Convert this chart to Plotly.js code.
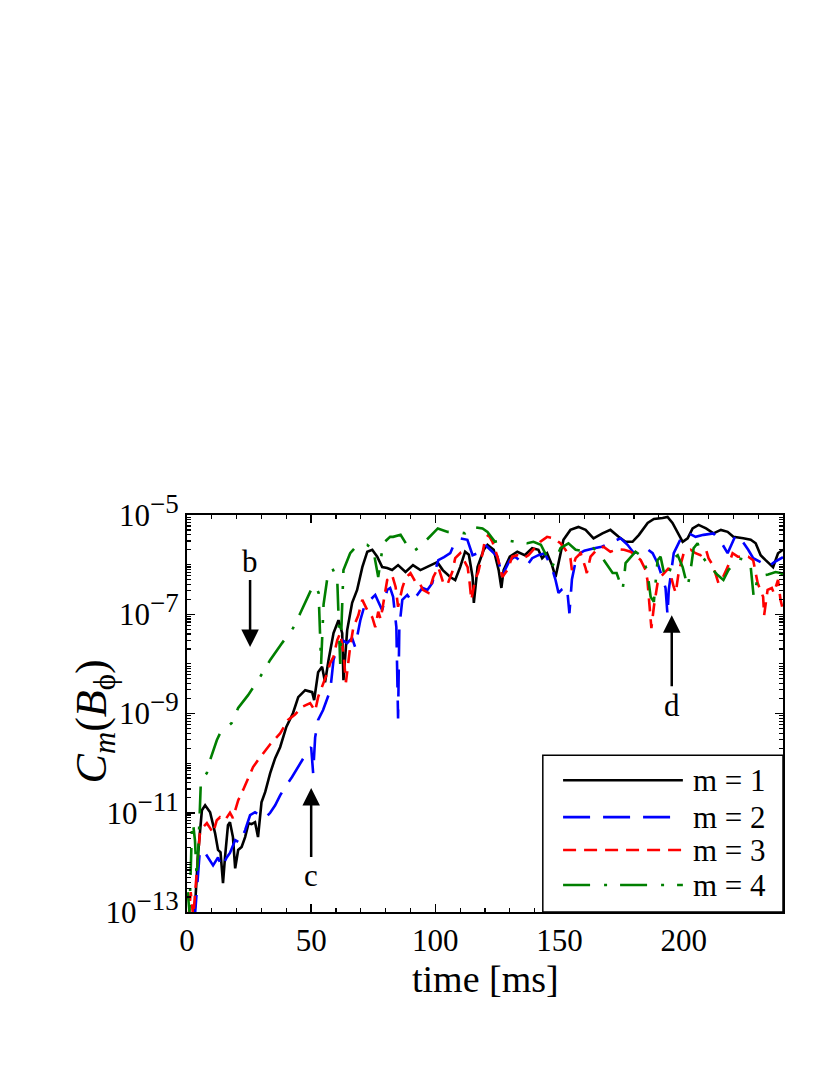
<!DOCTYPE html>
<html>
<head>
<meta charset="utf-8">
<script src="https://cdn.plot.ly/plotly-3.0.1.min.js"></script>
<style>
  body { margin: 0; background: #fff; }
  #chart { width: 830px; height: 1075px; }
</style>
</head>
<body>
<div id="chart"></div>
<script>
/*
Data: time in ms, values as log10 of C_m(B_phi)
*/
var timeM1 = [
  2.0, 3.2, 4.5, 6.0, 7.3, 9.3, 11.3, 12.5, 13.5, 14.5,
  15.3, 16.5, 17.3, 18.5, 19.4, 20.6, 22.0, 23.4, 24.8, 26.0,
  27.4, 28.6, 30.0, 31.5, 33.5, 35.5, 37.5, 40.0, 42.7, 44.8,
  47.6, 50.4, 51.2, 52.8, 54.4, 55.6, 57.0, 59.0, 61.0, 62.5,
  63.0, 64.5, 66.5, 68.5, 70.6, 72.6, 74.6, 76.6, 78.6, 80.6,
  82.6, 85.0, 88.0, 91.0, 94.0, 98.0, 100.8, 103.0, 106.0, 108.0,
  110.0, 112.0, 113.5, 115.0, 115.5, 117.0, 118.0, 119.5, 121.0, 123.5,
  125.5, 126.6, 127.5, 130.0, 133.0, 136.0, 139.0, 141.5, 143.0, 145.0,
  147.0, 148.4, 149.6, 151.6, 154.4, 157.6, 160.5, 163.7, 167.3, 170.5,
  173.8, 176.6, 179.4, 182.0, 185.5, 188.0, 191.5, 193.5, 195.5, 197.6,
  199.6, 201.6, 203.6, 206.0, 209.0, 212.0, 215.0, 217.7, 220.0, 224.0,
  227.0, 229.0, 231.0, 233.0, 236.0, 238.0, 240.0
];
var logM1 = [
  -13.3, -12.9, -11.8, -10.95, -10.85, -10.99, -11.41, -11.75, -11.8, -12.42,
  -11.9, -11.25, -11.19, -11.49, -12.12, -11.75, -11.69, -11.49, -11.21, -11.23,
  -11.19, -11.49, -10.79, -10.58, -10.2, -9.9, -9.68, -9.27, -8.99, -8.67,
  -8.53, -8.57, -8.73, -8.17, -8.06, -8.37, -7.92, -7.38, -7.12, -7.38,
  -8.33, -7.32, -6.77, -6.51, -6.05, -5.74, -5.7, -5.84, -6.05, -6.07,
  -6.11, -6.01, -6.15, -6.01, -6.11, -6.01, -5.95, -6.11, -6.25, -6.31,
  -6.05, -5.74, -5.8, -6.25, -6.77, -6.05, -5.91, -5.7, -5.6, -5.7,
  -6.11, -6.47, -6.11, -5.84, -5.74, -5.81, -5.67, -5.7, -5.87, -5.77,
  -6.01, -6.25, -5.97, -5.5, -5.3, -5.24, -5.3, -5.47, -5.37, -5.3,
  -5.44, -5.54, -5.54, -5.4, -5.16, -5.08, -5.06, -5.04, -5.16, -5.37,
  -5.54, -5.47, -5.27, -5.2, -5.27, -5.37, -5.3, -5.34, -5.44, -5.47,
  -5.5, -5.57, -5.81, -5.91, -6.05, -5.77, -5.7
];

var timeM2 = [
  3.0, 4.0, 5.2, 7.3, 9.3, 10.5, 12.5, 14.0, 16.0, 17.3,
  19.4, 21.4, 23.4, 25.4, 27.4, 29.4, 31.5, 33.5, 35.5, 37.5,
  39.5, 42.3, 44.8, 46.8, 48.8, 50.0, 50.8, 51.6, 52.8, 54.8,
  56.4, 57.7, 59.0, 60.5, 62.5, 64.5, 66.5, 67.7, 69.8, 71.8,
  73.8, 75.8, 78.6, 80.6, 81.8, 83.0, 84.3, 85.0, 85.5, 86.7,
  88.7, 90.7, 92.7, 94.8, 96.8, 98.8, 100.0, 101.2, 103.5, 106.0,
  108.0, 110.0, 112.9, 115.0, 117.0, 120.0, 123.0, 125.0, 127.0, 128.0,
  130.0, 132.0, 135.0, 137.0, 139.0, 141.5, 144.0, 147.0, 148.4, 149.6,
  151.0, 153.0, 154.0, 155.0, 157.0, 160.0, 164.0, 167.0, 170.0, 174.6,
  177.4, 180.0, 182.7, 185.4, 187.5, 189.5, 190.7, 192.7, 193.5, 194.0,
  196.0, 199.6, 202.0, 204.8, 208.0, 212.0, 215.0, 217.7, 221.0, 223.8,
  226.0, 228.0, 231.0, 233.8, 236.5, 239.0, 240.0
];
var logM2 = [
  -13.2, -12.5, -11.75, -11.81, -11.96, -12.06, -11.9, -12.1, -11.9, -11.81,
  -11.55, -11.61, -11.35, -11.05, -10.99, -11.05, -11.11, -11.0, -10.85, -10.65,
  -10.48, -10.28, -10.08, -9.9, -9.74, -9.68, -10.2, -9.48, -9.13, -8.93,
  -8.73, -8.53, -7.92, -7.66, -7.52, -7.58, -7.48, -7.66, -7.12, -6.77,
  -6.71, -6.61, -6.92, -6.51, -6.47, -6.65, -7.26, -9.1, -7.26, -6.71,
  -6.61, -6.75, -6.61, -6.47, -6.51, -6.37, -6.11, -5.91, -5.85, -5.77,
  -5.54, -5.47, -5.5, -5.81, -5.77, -5.6, -5.74, -5.84, -6.25, -6.11,
  -5.91, -5.84, -5.95, -6.01, -5.87, -5.81, -5.77, -6.07, -6.31, -6.57,
  -6.5, -6.45, -6.98, -6.3, -5.81, -5.72, -5.67, -5.64, -5.57, -5.47,
  -5.6, -5.77, -5.7, -5.69, -5.77, -5.97, -6.15, -6.47, -7.02, -6.51,
  -5.77, -5.4, -5.37, -5.44, -5.4, -5.37, -5.54, -5.77, -5.4, -5.54,
  -5.7, -5.87, -5.95, -6.05, -5.95, -5.87, -5.85
];

var timeM3 = [
  0.5, 1.5, 2.5, 3.5, 4.5, 5.2, 6.5, 8.0, 9.3, 10.5,
  12.0, 13.3, 15.3, 17.3, 18.5, 20.6, 22.6, 24.8, 26.6, 28.6,
  31.5, 33.5, 37.5, 40.7, 43.5, 46.6, 49.6, 51.6, 52.8, 54.4,
  56.4, 57.7, 59.0, 60.5, 61.7, 63.0, 64.0, 65.7, 67.0, 69.0,
  70.6, 72.6, 74.6, 75.8, 77.0, 78.0, 80.6, 82.6, 84.0, 85.0,
  86.7, 88.0, 90.0, 92.0, 93.5, 95.0, 97.2, 99.2, 101.2, 103.2,
  104.8, 106.8, 108.0, 110.0, 113.0, 113.7, 114.5, 116.0, 117.3, 119.0,
  120.0, 121.4, 123.0, 125.0, 127.0, 129.0, 131.0, 133.0, 135.5, 137.5,
  139.5, 141.0, 142.3, 145.0, 147.6, 150.4, 152.4, 154.4, 155.0, 156.5,
  158.5, 160.5, 161.0, 162.5, 165.0, 167.7, 170.5, 173.4, 176.0, 178.6,
  180.6, 182.7, 184.7, 185.4, 186.7, 187.0, 188.0, 189.5, 190.7, 192.7,
  194.0, 196.0, 196.8, 198.0, 200.0, 202.8, 204.8, 206.8, 209.0, 210.0,
  211.7, 213.0, 214.0, 215.7, 217.7, 219.7, 221.8, 224.0, 226.0, 228.0,
  229.8, 232.0, 232.4, 233.8, 235.5, 236.3, 238.0, 239.0, 240.0
];
var logM3 = [
  -13.2, -12.6, -13.1, -12.5, -12.0, -11.41, -11.29, -11.21, -11.31, -11.41,
  -11.15, -11.09, -11.15, -11.0, -11.11, -10.75, -10.54, -10.28, -10.08, -9.94,
  -9.74, -9.62, -9.4, -9.13, -9.02, -8.86, -8.79, -8.95, -8.67, -8.47,
  -8.19, -7.98, -7.86, -7.52, -7.38, -7.78, -8.37, -7.66, -7.26, -7.02,
  -6.71, -6.92, -7.06, -7.26, -6.95, -7.1, -6.31, -6.21, -6.45, -6.85,
  -6.47, -6.27, -6.17, -6.35, -6.35, -6.51, -6.57, -6.25, -6.05, -6.37,
  -6.41, -6.15, -5.87, -5.77, -6.05, -6.31, -6.71, -6.31, -6.15, -5.77,
  -5.5, -5.4, -5.54, -5.84, -6.25, -6.11, -5.84, -5.81, -5.87, -5.81,
  -5.7, -5.6, -5.54, -5.44, -5.47, -5.57, -5.7, -5.87, -6.11, -5.87,
  -5.77, -6.07, -6.17, -5.84, -5.7, -5.64, -5.74, -5.69, -5.7, -5.74,
  -5.81, -5.91, -6.11, -6.31, -6.98, -7.28, -6.85, -6.37, -6.25, -6.15,
  -6.07, -6.45, -6.57, -6.15, -5.77, -5.7, -5.77, -5.81, -5.7, -5.87,
  -6.01, -6.21, -6.37, -6.27, -6.05, -5.77, -5.84, -5.84, -5.84, -5.91,
  -6.37, -6.65, -7.02, -6.51, -6.47, -6.57, -6.31, -6.71, -6.92
];

var timeM4 = [
  0.3, 1.0, 1.3, 2.0, 2.4, 3.2, 3.9, 4.6, 5.2, 5.6,
  6.5, 8.0, 9.3, 10.5, 12.0, 13.3, 15.5, 18.0, 20.6, 24.6,
  29.0, 33.5, 38.0, 42.7, 45.6, 48.3, 50.5, 51.6, 53.0, 54.0,
  55.0, 56.4, 58.5, 60.5, 61.7, 62.5, 63.0, 65.7, 67.8, 69.8,
  72.5, 75.0, 77.0, 79.0, 81.8, 83.0, 86.0, 89.0, 91.0, 94.0,
  96.5, 98.8, 101.0, 105.0, 109.0, 112.0, 115.0, 119.0, 121.0, 124.0,
  127.5, 132.0, 137.0, 139.5, 142.5, 147.0, 150.4, 153.6, 156.5, 161.0,
  163.7, 166.5, 168.5, 171.4, 173.0, 175.4, 176.0, 176.6, 180.6, 183.4,
  185.4, 186.7, 188.0, 189.5, 190.7, 192.0, 193.5, 196.0, 197.6, 199.6,
  201.6, 202.8, 204.0, 205.6, 207.6, 210.0, 213.7, 216.0, 218.0, 219.7,
  222.0, 225.0, 227.0, 228.2, 229.8, 231.0, 234.0, 237.0, 239.0, 240.0
];
var logM4 = [
  -12.6, -13.0, -12.5, -11.29, -11.2, -11.55, -12.3, -11.7, -10.9, -10.34,
  -10.3, -10.2, -9.94, -9.74, -9.54, -9.4, -9.3, -9.19, -8.89, -8.63,
  -8.3, -7.92, -7.6, -7.28, -6.98, -6.67, -6.45, -6.41, -6.57, -8.0,
  -6.8, -6.31, -6.07, -6.3, -8.0, -6.8, -6.11, -5.77, -5.65, -5.6,
  -5.6, -5.7, -6.25, -5.57, -5.44, -5.44, -5.4, -5.64, -5.74, -5.63,
  -5.5, -5.4, -5.27, -5.34, -5.34, -5.37, -5.24, -5.27, -5.34, -5.54,
  -5.5, -5.54, -5.57, -5.54, -5.6, -6.05, -5.67, -5.57, -5.7, -5.74,
  -5.67, -5.81, -5.95, -6.17, -6.17, -6.51, -6.27, -5.97, -5.74, -5.84,
  -6.15, -6.65, -6.75, -5.91, -5.84, -6.15, -6.27, -5.87, -5.81, -6.05,
  -6.45, -6.11, -5.67, -5.57, -5.84, -6.01, -6.21, -6.31, -6.11, -6.01,
  -5.87, -5.91, -6.05, -6.65, -6.27, -6.23, -6.2, -6.15, -6.17, -6.2
];

var seriesNames = ['m = 1', 'm = 2', 'm = 3', 'm = 4'];
var seriesColors = ['#000000', '#0000ff', '#ff0000', '#007f00'];
var seriesDash = ['solid', '27px,13px', '13px,8px', '27px,14px,3px,13px'];
var yLabelExp = [-13, -11, -9, -7, -5];
var yBareExp = [-12, -10, -8, -6];

var serif = 'Liberation Serif, Times New Roman, serif';

function toValues(logs) {
  return logs.map(function (v) { return Math.pow(10, v); });
}

var times = [timeM1, timeM2, timeM3, timeM4];
var logs = [logM1, logM2, logM3, logM4];
var data = [];
for (var i = 0; i < 4; i++) {
  data.push({
    type: 'scatter',
    mode: 'lines',
    name: seriesNames[i],
    x: times[i],
    y: toValues(logs[i]),
    line: { color: seriesColors[i], width: 2.6, dash: seriesDash[i] },
    showlegend: false
  });
}

// labelled decades as major ticks, the rest (incl. unlabelled decades) as minor ticks
var yTickVals = [], yTickText = [], yMinorVals = [];
yLabelExp.forEach(function (e) {
  yTickVals.push(Math.pow(10, e));
  yTickText.push('10<sup><span style="font-size:27px">\u2212' + Math.abs(e) + '</span></sup>');
});
yBareExp.forEach(function (e) { yMinorVals.push(Math.pow(10, e)); });
for (var e = -13; e < -5; e++) {
  for (var d = 2; d < 10; d++) yMinorVals.push(d * Math.pow(10, e));
}

// hand-made legend box (long line samples)
var legendY = [0.332, 0.239, 0.156, 0.068];
var shapes = [{
  type: 'rect', xref: 'paper', yref: 'paper',
  x0: 0.597, x1: 1.0, y0: 0, y1: 0.395,
  line: { color: '#000', width: 1.5 }, fillcolor: '#fff', layer: 'above'
}];
var annotations = [];
for (var j = 0; j < 4; j++) {
  shapes.push({
    type: 'line', xref: 'paper', yref: 'paper',
    x0: 0.631, x1: 0.832, y0: legendY[j], y1: legendY[j],
    line: { color: seriesColors[j], width: 2.6, dash: seriesDash[j] },
    layer: 'above'
  });
  annotations.push({
    xref: 'paper', yref: 'paper', x: 0.846, y: legendY[j],
    xanchor: 'left', yanchor: 'middle', showarrow: false,
    text: seriesNames[j], font: { family: serif, size: 31, color: '#000' }
  });
}

// arrows b, c, d
var arrowLabels = ['b', 'c', 'd'];
var arrowX = [25.4, 50.0, 195.2];
var arrowY = [-7.66, -10.5, -7.02];
var arrowAy = [-86, 88, 90];
for (var a = 0; a < 3; a++) {
  annotations.push({
    xref: 'x', yref: 'y', x: arrowX[a], y: arrowY[a],
    ax: 0, ay: arrowAy[a], text: arrowLabels[a],
    showarrow: true, arrowhead: 2, arrowsize: 1.4, arrowwidth: 2.5,
    arrowcolor: '#000', font: { family: serif, size: 31, color: '#000' }
  });
}

// axis titles placed by hand
annotations.push({
  xref: 'paper', yref: 'paper', x: -0.156, y: 0.48,
  xanchor: 'center', yanchor: 'middle', showarrow: false, textangle: -90,
  text: '<i>C<sub>m</sub></i>(<i>B</i><sub>\u03d5</sub>)',
  font: { family: serif, size: 44, color: '#000' }
});
annotations.push({
  xref: 'paper', yref: 'paper', x: 0.5, y: -0.168,
  xanchor: 'center', yanchor: 'middle', showarrow: false,
  text: 'time [ms]', font: { family: serif, size: 38, color: '#000' }
});

var layout = {
  width: 830,
  height: 1075,
  margin: { l: 187, r: 47, t: 515, b: 163 },
  paper_bgcolor: '#fff',
  plot_bgcolor: '#fff',
  font: { family: serif, size: 30, color: '#000' },
  xaxis: {
    range: [0, 240],
    tickmode: 'array',
    tickvals: [0, 50, 100, 150, 200],
    ticks: 'inside', ticklen: 8, tickwidth: 1.5, tickcolor: '#000',
    minor: { tickmode: 'linear', tick0: 0, dtick: 10, ticks: 'inside', ticklen: 4, tickwidth: 1.2, tickcolor: '#000' },
    showline: true, linewidth: 2, linecolor: '#000', mirror: 'allticks',
    showgrid: false, zeroline: false,
    tickfont: { family: serif, size: 31 }
  },
  yaxis: {
    type: 'log',
    range: [-13, -5],
    tickmode: 'array',
    tickvals: yTickVals,
    ticktext: yTickText,
    ticks: 'inside', ticklen: 8, tickwidth: 1.5, tickcolor: '#000',
    minor: { tickmode: 'array', tickvals: yMinorVals, ticks: 'inside', ticklen: 4, tickwidth: 1.2, tickcolor: '#000' },
    showline: true, linewidth: 2, linecolor: '#000', mirror: 'allticks',
    showgrid: false, zeroline: false,
    tickfont: { family: serif, size: 31 }
  },
  shapes: shapes,
  annotations: annotations
};

var config = { staticPlot: true };
Plotly.newPlot('chart', data, layout, config);
</script>
</body>
</html>
